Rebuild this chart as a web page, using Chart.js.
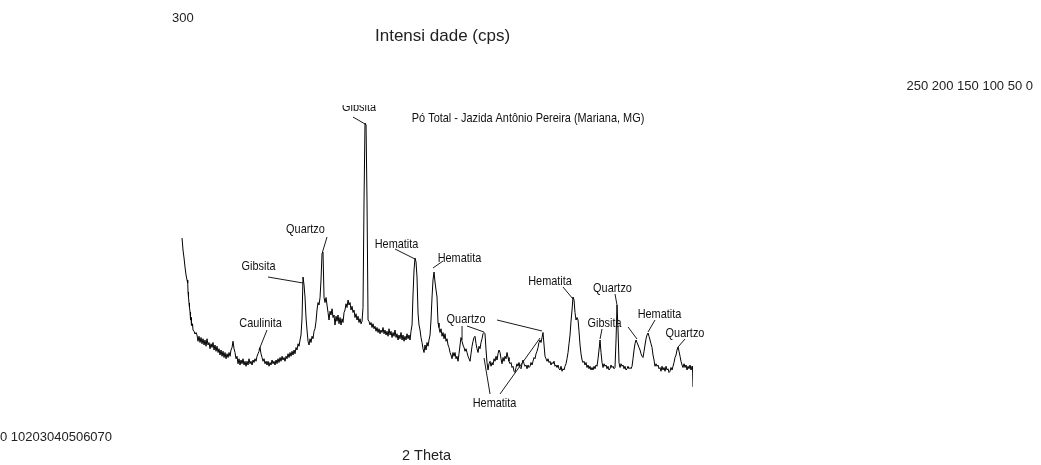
<!DOCTYPE html>
<html>
<head>
<meta charset="utf-8">
<script src="https://cdn.jsdelivr.net/npm/chart.js@4/dist/chart.umd.min.js"></script>
<style>
  html, body { margin: 0; padding: 0; background: #fff; }
  #wrap { position: relative; width: 1041px; height: 465px; }
</style>
</head>
<body>
<div id="wrap"><canvas id="c" width="1041" height="465"></canvas></div>
<script>
// ---- Data (2θ in degrees, intensity in cps) ----
const twoTheta = [
  6.13,6.25,6.38,6.5,6.63,6.75,6.84,6.88,6.94,7.0,
  7.06,7.13,7.19,7.25,7.31,7.38,7.44,7.5,7.63,7.75,
  7.88,8.0,8.13,8.25,8.38,8.5,8.63,8.75,8.88,9.0,
  9.13,9.25,9.38,9.5,9.63,9.75,9.88,10.0,10.13,10.25,
  10.38,10.5,10.63,10.75,10.88,11.0,11.13,11.25,11.38,11.5,
  11.63,11.75,11.88,12.0,12.13,12.25,12.38,12.5,12.63,12.75,
  12.88,13.0,13.13,13.25,13.38,13.5,13.63,13.75,13.88,14.0,
  14.13,14.25,14.38,14.5,14.63,14.75,14.88,15.0,15.13,15.25,
  15.38,15.5,15.63,15.75,15.88,16.0,16.13,16.25,16.38,16.5,
  16.63,16.75,16.88,17.0,17.13,17.25,17.38,17.5,17.63,17.75,
  17.88,18.0,18.13,18.25,18.38,18.5,18.63,18.75,18.88,19.0,
  19.13,19.25,19.38,19.5,19.63,19.75,19.88,20.0,20.13,20.25,
  20.38,20.5,20.63,20.75,20.88,21.0,21.13,21.25,21.38,21.5,
  21.63,21.75,21.88,22.0,22.13,22.25,22.38,22.5,22.63,22.75,
  22.88,23.0,23.13,23.25,23.38,23.5,23.63,23.75,23.88,24.0,
  24.13,24.25,24.38,24.5,24.63,24.75,24.88,25.0,25.13,25.25,
  25.38,25.5,25.63,25.75,25.88,26.0,26.13,26.25,26.38,26.5,
  26.63,26.75,26.88,27.0,27.13,27.25,27.38,27.5,27.63,27.75,
  27.88,28.0,28.13,28.25,28.38,28.5,28.63,28.75,28.88,29.0,
  29.13,29.25,29.38,29.5,29.63,29.75,29.88,30.0,30.13,30.25,
  30.38,30.5,30.63,30.75,30.88,31.0,31.13,31.25,31.38,31.5,
  31.63,31.75,31.88,32.0,32.13,32.25,32.38,32.5,32.63,32.75,
  32.88,33.0,33.13,33.25,33.38,33.5,33.63,33.75,33.88,34.0,
  34.13,34.25,34.38,34.5,34.63,34.75,34.88,35.0,35.13,35.25,
  35.38,35.5,35.63,35.75,35.88,36.0,36.13,36.25,36.38,36.5,
  36.63,36.75,36.88,37.0,37.13,37.25,37.38,37.5,37.63,37.75,
  37.88,38.0,38.13,38.25,38.38,38.5,38.63,38.75,38.88,39.0,
  39.13,39.25,39.38,39.5,39.63,39.75,39.88,40.0,40.13,40.25,
  40.38,40.5,40.63,40.75,40.88,41.0,41.13,41.25,41.38,41.5,
  41.63,41.75,41.88,42.0,42.13,42.25,42.38,42.5,42.63,42.75,
  42.88,43.0,43.13,43.25,43.38,43.5,43.63,43.75,43.88,44.0,
  44.13,44.25,44.38,44.5,44.63,44.75,44.88,45.0,45.13,45.25,
  45.38,45.5,45.63,45.75,45.88,46.0,46.13,46.25,46.38,46.5,
  46.63,46.75,46.88,47.0,47.13,47.25,47.38,47.5,47.63,47.75,
  47.88,48.0,48.13,48.25,48.38,48.5,48.63,48.75,48.88,49.0,
  49.13,49.25,49.38,49.5,49.63,49.75,49.88,50.0,50.13,50.25,
  50.38,50.5,50.63,50.75,50.88,51.0,51.13,51.25,51.38,51.5,
  51.63,51.75,51.88,52.0,52.13,52.25,52.38,52.5,52.63,52.75,
  52.88,53.0,53.13,53.25,53.38,53.5,53.63,53.75,53.88,54.0,
  54.13,54.25,54.38,54.5,54.63,54.75,54.88,55.0,55.13,55.25,
  55.38,55.5,55.63,55.75,55.88,56.0,56.13,56.25,56.38,56.5,
  56.63,56.75,56.88,57.0,57.13,57.25,57.38,57.5,57.63,57.75,
  57.88,58.0,58.13,58.25,58.38,58.5,58.63,58.75,58.88,59.0,
  59.13,59.25,59.38,59.5,59.63,59.75,59.88,60.0,60.13,60.25,
  60.38,60.5,60.63,60.75,60.88,61.0,61.13,61.25,61.38,61.5,
  61.63,61.75,61.88,62.0,62.13,62.25,62.38,62.5,62.63,62.75,
  62.88,63.0,63.13,63.25,63.38,63.5,63.63,63.75,63.88,64.0,
  64.13,64.25,64.38,64.5,64.63,64.75,64.88,65.0,65.13,65.25,
  65.38,65.5,65.63,65.75,65.88,66.0,66.13,66.25,66.38,66.5,
  66.63,66.75,66.88,67.0,67.13,67.25,67.38,67.5,67.63,67.75,
  67.88,68.0,68.13,68.25,68.38,68.5,68.63,68.75,68.88,69.0,
  69.13,69.25,69.38,69.5,69.63,69.75,69.88,69.94,70.0
];
const intensity = [
  129.6,120,113.6,106.4,100,96,93.6,86.4,82,77.6,
  74,70.4,64,66,60,59.2,61,56,55,52.8,
  54,52,47,51,46,50,45,49,44,48,
  43,49,44,46,41,45,42,46,40,44,
  39,43,38,41,36,40,35,39,34,38,
  33,37,34,38,35,40,42,47,41,38,
  33,35,29,33,28,32,29,33,28,31,
  27,31,28,33,29,31,28,32,30,33,
  31,35,37,39,42,37,34,31,33,29,
  31,28,31,27,30,28,32,29,31,28,
  32,29,33,30,34,31,35,32,34,31,
  35,33,37,34,38,35,39,36,40,37,
  42,40,45,43,48,52,65.6,98.4,92,82.4,
  65.6,56,47,44,49,46,51,49,55,57,
  63,72,78,76,82,96,117.6,118.4,82,78,
  82,76,70,64,71,68,73,66,68,60,
  67,63,68,61,66,60,65,62,70,72,
  77,74,80,76,78,72,75,70,72,66,
  69,64,67,62,65,61,63,74,160,221.6,
  220,160,64,63,60,62,58,61,57,59,
  55,58,54,57,53,56,54,58,53,56,
  52,55,51,57,52,55,50,54,51,56,
  50,53,48,52,49,54,48,52,47,51,
  48,53,49,52,48,55,60,84,104,113.6,
  110.4,98.4,69.6,60,56,50,46,41,38,44,
  40,46,43,48,52,64,82.4,96,102.4,94.4,
  88,82.4,61.6,58,54,57,51,54,49,53,
  47,49,44,42,38,36,33,38,35,38,
  33,35,31,37,44,50,47,44,42,39,
  41,38,35,33,31,37,43,47,50,51,
  45,41,38,43,41,46,49,53,54,53,
  40,30,24,29,31,27,30,28,33,31,
  35,32,37,40,38,33,29,34,31,35,
  33,38,34,31,29,30,26,27,23,22,
  26,29,27,30,26,25,29,32,29,27,
  28,25,28,26,27,30,28,31,34,33,
  37,39,42,46,48,46,50,54,44,35,
  33,31,33,30,31,28,30,29,31,27,
  28,26,28,25,24,27,23,25,24,27,
  29,33,38,45,52,63,72,82.4,80,70,
  64,66,64,55,44,37,32,30,31,28,
  30,26,28,25,27,24,26,24,27,25,
  28,27,33,40,48,38,30,26,29,27,
  28,25,27,24,25,28,26,27,25,26,
  48,76,56,30,26,29,27,28,25,27,
  24,25,27,25,26,25,27,33,40,45,
  48,46,44,42,40,37,35,34,39,44,
  49,52,53.6,51,48,45,42,36,32,27,
  29,27,28,25,26,23,27,24,26,23,
  27,24,25,22,23,26,24,27,30,34,
  36,40,42.4,39,35,31,28,26,29,26,
  28,24,27,25,28,24,27,26,10.4
];

// Axis tick labels (printed as loose text in the reference)
const yTickLabels = ['300', '250', '200', '150', '100', '50', '0'];
const xTickLabels = ['0', '10', '20', '30', '40', '50', '60', '70'];
const yAxisTitle = 'Intensi dade (cps)';
const xAxisTitle = '2 Theta';
const chartTitle = 'Pó Total - Jazida Antônio Pereira (Mariana, MG)';

// Phase labels: text anchor (2θ, cps) and leader lines [2θ1, cps1, 2θ2, cps2]
const phaseNames = ['Gibsita', 'Quartzo', 'Gibsita', 'Hematita', 'Hematita', 'Caulinita', 'Quartzo',
                    'Hematita', 'Hematita', 'Quartzo', 'Gibsita', 'Hematita', 'Quartzo'];
const labelX = [28.25, 21.56, 15.69, 32.94, 40.81, 15.94, 41.63, 45.19, 52.13, 59.94, 58.94, 65.81, 69.0];
const labelY = [231.2, 133.6, 104, 121.6, 110.4, 58.4, 61.6, -5.6, 92, 86.4, 58.4, 65.6, 50.4];
const leaders = [
  [[27.5, 226.4, 29.0, 220.8]],
  [[24.25, 130.4, 23.69, 118.4]],
  [[16.88, 98.4, 21.25, 93.6]],
  [[32.75, 120.8, 35.25, 112.8]],
  [[38.75, 111.2, 37.5, 105.6]],
  [[16.75, 56, 15.75, 40]],
  [[41.13, 59.2, 41.13, 48], [41.75, 59.2, 43.88, 54.4], [45.5, 64, 51.13, 55.2]],
  [[43.88, 33.6, 44.63, 4.8], [45.88, 4.8, 50.88, 49.6]],
  [[53.75, 90.4, 55.0, 80.8]],
  [[60.25, 84.8, 60.5, 76]],
  [[58.63, 56.8, 58.38, 48.8]],
  [[65.25, 64, 64.38, 54.4], [61.88, 58.4, 63.0, 48.8]],
  [[69.0, 48.8, 68.13, 42.4]]
];
const titleX = 49.38, titleY = 222.4;

function drawNarrow(ctx, text, px, py, size, sx, align) {
  ctx.save();
  ctx.translate(px, py);
  ctx.scale(sx, 1);
  ctx.font = size + 'px "Liberation Sans", Arial, sans-serif';
  ctx.textAlign = align;
  ctx.textBaseline = 'alphabetic';
  ctx.fillStyle = '#111';
  ctx.fillText(text, 0, 0);
  ctx.restore();
}

const xrdLabels = {
  id: 'xrdLabels',
  afterDatasetsDraw(chart) {
    const { ctx, scales: { x, y } } = chart;
    ctx.save();
    ctx.beginPath();
    ctx.rect(0, 105, chart.width, 302);
    ctx.clip();
    ctx.strokeStyle = '#1a1a1a';
    ctx.lineWidth = 1;
    leaders.forEach(group => group.forEach(([a, b, c, d]) => {
      ctx.beginPath();
      ctx.moveTo(x.getPixelForValue(a), y.getPixelForValue(b));
      ctx.lineTo(x.getPixelForValue(c), y.getPixelForValue(d));
      ctx.stroke();
    }));
    phaseNames.forEach((t, i) => {
      drawNarrow(ctx, t, x.getPixelForValue(labelX[i]), y.getPixelForValue(labelY[i]), 13, 0.84, 'center');
    });
    drawNarrow(ctx, chartTitle, x.getPixelForValue(titleX), y.getPixelForValue(titleY), 13, 0.84, 'center');
    ctx.restore();
  },
  afterDraw(chart) {
    const ctx = chart.ctx;
    ctx.save();
    ctx.fillStyle = '#222';
    ctx.textBaseline = 'alphabetic';
    ctx.textAlign = 'left';
    ctx.font = '13px "Liberation Sans", Arial, sans-serif';
    ctx.fillText(yTickLabels[0], 172, 22);
    ctx.textAlign = 'right';
    ctx.fillText(yTickLabels.slice(1).join(' '), 1033, 90);
    ctx.textAlign = 'left';
    ctx.fillText(xTickLabels[0] + ' ' + xTickLabels.slice(1).join(''), 0, 441);
    ctx.font = '17px "Liberation Sans", Arial, sans-serif';
    ctx.fillText(yAxisTitle, 375, 41);
    ctx.font = '14.5px "Liberation Sans", Arial, sans-serif';
    ctx.fillText(xAxisTitle, 402, 460);
    ctx.restore();
  }
};

new Chart(document.getElementById('c'), {
  type: 'line',
  data: {
    datasets: [{
      data: twoTheta.map((t, i) => ({ x: t, y: intensity[i] })),
      borderColor: '#000',
      borderWidth: 1,
      pointRadius: 0,
      tension: 0,
      fill: false
    }]
  },
  options: {
    responsive: false,
    animation: false,
    layout: { padding: { left: 133, right: 348, top: 25, bottom: 65 } },
    scales: {
      x: { type: 'linear', min: 0, max: 70, display: false },
      y: { min: 0, max: 300, display: false }
    },
    plugins: { legend: { display: false }, tooltip: { enabled: false }, title: { display: false } }
  },
  plugins: [xrdLabels]
});
</script>
</body>
</html>
